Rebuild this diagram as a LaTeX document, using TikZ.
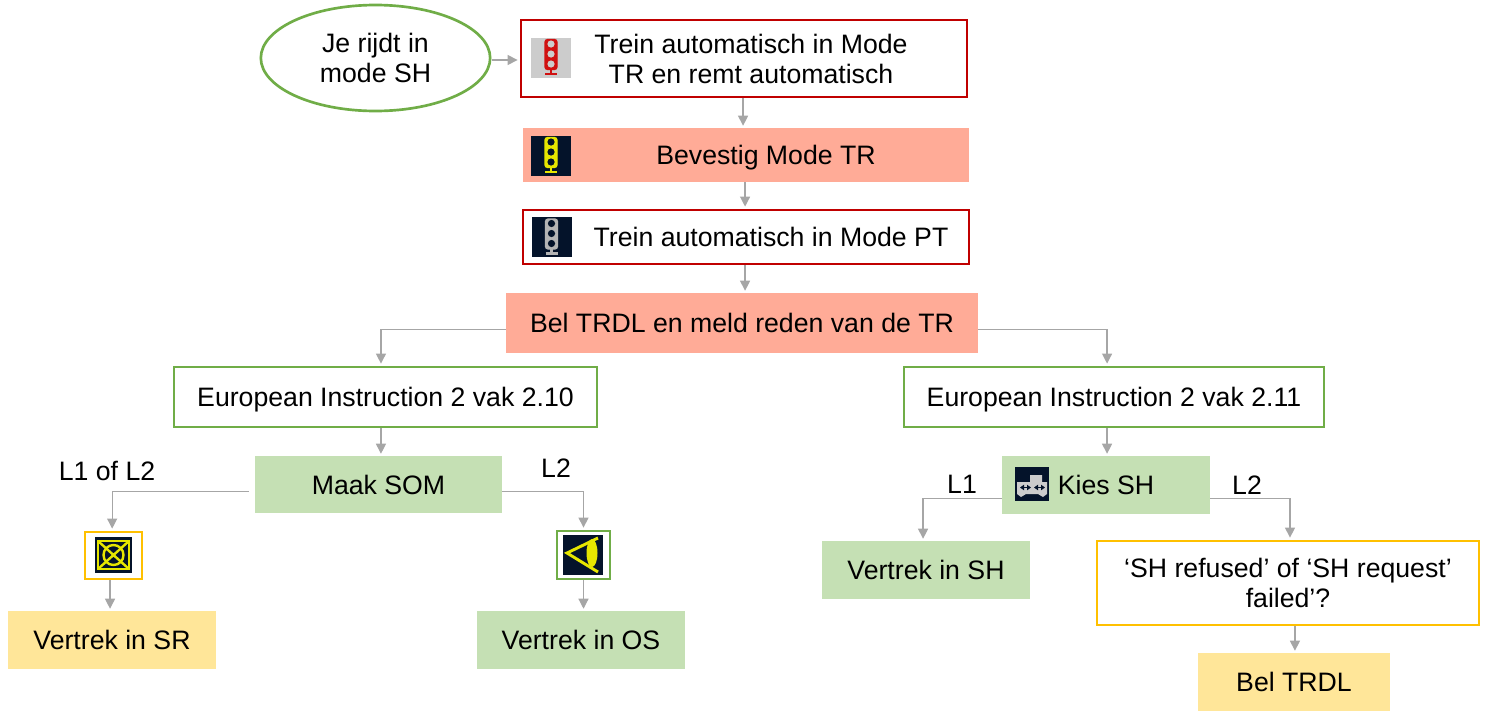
\documentclass[tikz,border=0pt]{standalone}
\usepackage{fontspec}
\setmainfont{Liberation Sans}
\usetikzlibrary{shapes.geometric,arrows.meta}
\definecolor{cred}{HTML}{C00000}
\definecolor{cgreen}{HTML}{70AD47}
\definecolor{cgold}{HTML}{FFC000}
\definecolor{csalmon}{HTML}{FFAB97}
\definecolor{clgreen}{HTML}{C5E0B4}
\definecolor{cyel}{HTML}{FFE699}
\definecolor{cgray}{HTML}{A6A6A6}
\definecolor{icondark}{HTML}{04132A}
\definecolor{iconyel}{HTML}{E6E600}
\definecolor{iconlg}{HTML}{CCCCCC}
\definecolor{iconmg}{HTML}{B4B4B4}
\definecolor{iconred}{HTML}{D01010}
\tikzset{
  x=0.75pt,y=-0.75pt,
  txt/.style={font=\fontsize{20}{22.5}\selectfont,align=center,text=black,inner sep=0pt},
  oneline/.style={text height=14.3pt,text depth=0pt},
  boxbase/.style n args={2}{txt,rectangle,minimum width=#1*0.75pt,minimum height=#2*0.75pt},
  redbox/.style={draw=cred,line width=2.1pt,fill=white},
  greenbox/.style={draw=cgreen,line width=2.1pt,fill=white},
  goldbox/.style={draw=cgold,line width=2.1pt,fill=white},
  salmonbox/.style={fill=csalmon},
  lgbox/.style={fill=clgreen},
  yelbox/.style={fill=cyel},
  conn/.style={draw=cgray,line width=0.9pt,-{Triangle[length=7.5pt,width=7.5pt]},shorten >=1.5pt},
  edgelabel/.style={font=\fontsize{20}{22}\selectfont,text=black,inner sep=0pt},
  pics/tlight/.style 2 args={code={
    \fill[#1] (-20,-20) rectangle (20,20);
    \filldraw[draw=#2,fill=#2,line width=1pt,rounded corners=2pt] (-6,-18) rectangle (6,12);
    \draw[#2,line width=2pt] (0,12) -- (0,15);
    \draw[#2,line width=2.2pt] (-6,16.5) -- (6,16.5);
    \foreach \cy in {-13.5,-3.5,6.5} \fill[#1] (0,\cy) circle (3.6);
  }},
}
\begin{document}
\begin{tikzpicture}
\useasboundingbox (0,0) rectangle (1485,711);
\node[ellipse,draw=cgreen,line width=2pt,fill=white,txt,minimum width=172pt,minimum height=79.5pt] (start) at (375.5,58) {Je rijdt in\\mode SH};
\node[boxbase={446}{77},redbox] (a) at (744,58.5) {\hspace{10.5pt}Trein automatisch in Mode\\\hspace{10.5pt}TR en remt automatisch};
\node[boxbase={446}{54},salmonbox,oneline] (b) at (746,155) {\hspace{30pt}Bevestig Mode TR};
\node[boxbase={446}{54},redbox,oneline] (c) at (746,237) {\hspace{37.5pt}Trein automatisch in Mode PT};
\node[boxbase={472}{60},salmonbox,oneline] (d) at (742,323) {Bel TRDL en meld reden van de TR};
\node[boxbase={423}{60},greenbox,oneline] (e) at (385.5,397) {European Instruction 2 vak 2.10};
\node[boxbase={420}{60},greenbox,oneline] (f) at (1114,397) {European Instruction 2 vak 2.11};
\node[boxbase={247}{57},lgbox,oneline] (g) at (378.5,484.5) {Maak SOM};
\node[boxbase={208}{58},lgbox,oneline] (h) at (1106,485) {Kies SH};
\node[boxbase={57}{47},goldbox] (i) at (113.5,555.5) {};
\node[boxbase={53}{48},greenbox] (j) at (583.5,555) {};
\node[boxbase={208}{58},yelbox,oneline] (k) at (112,640) {Vertrek in SR};
\node[boxbase={208}{58},lgbox,oneline] (l) at (581,640) {Vertrek in OS};
\node[boxbase={208}{58},lgbox,oneline] (m) at (926,570) {Vertrek in SH};
\node[boxbase={382}{84},goldbox] (n) at (1288,583) {‘SH refused’ of ‘SH request’\\failed’?};
\node[boxbase={192}{58},yelbox,oneline] (o) at (1294,682) {Bel TRDL};

% icons
\pic at (551,57.5) {tlight={iconlg}{iconred}};
\pic at (551,155.5) {tlight={icondark}{iconyel}};
\pic at (551.5,237) {tlight={icondark}{iconmg}};

% SR icon
\fill[icondark] (94.5,537) rectangle (132,573);
\begin{scope}[iconyel,line width=1.8pt]
\draw (98,541) rectangle (129,569);
\draw (98,541) -- (129,569) (98,569) -- (129,541);
\draw (113.5,555) circle (10);
\end{scope}
% OS icon
\fill[icondark] (563,535) rectangle (603,575);
\begin{scope}[iconyel,line width=2.2pt]
\draw (598,538) -- (567,553) -- (598,572);
\fill (592,553) ellipse [x radius=5.5,y radius=14];
\end{scope}
% SH icon
\fill[icondark] (1015,467) rectangle (1049,501);
\begin{scope}[iconlg]
\fill (1017,482) -- (1030,482) -- (1030,475) -- (1042,475) -- (1042,482) -- (1047,482) -- (1047,494) -- (1043,497) -- (1038,494) -- (1026,494) -- (1021,497) -- (1017,494) -- cycle;
\draw[icondark,line width=0.9pt,{Triangle[length=3pt,width=4pt]}-{Triangle[length=3pt,width=4pt]}] (1020,487.5) -- (1031,487.5);
\draw[icondark,line width=0.9pt,{Triangle[length=3pt,width=4pt]}-{Triangle[length=3pt,width=4pt]}] (1034,487.5) -- (1045,487.5);
\end{scope}

% connectors
\draw[conn] ([yshift=-1.5pt]start.east) -- ([yshift=-1.5pt]start.east -| a.west);
\draw[conn] ([xshift=-0.7pt]a.south) -- ([xshift=-0.7pt]a.south |- b.north);
\draw[conn] ([xshift=-0.7pt]b.south) -- ([xshift=-0.7pt]b.south |- c.north);
\draw[conn] ([xshift=-0.7pt]c.south) -- ([xshift=-0.7pt]c.south |- d.north);
\draw[conn] ([yshift=-5pt]d.west) -| ([xshift=-3.4pt]e.north);
\draw[conn] ([yshift=-5pt]d.east) -| ([xshift=-5.2pt]f.north);
\draw[conn] ([xshift=-3.4pt]e.south) -- ([xshift=-3.4pt]e.south |- g.north);
\draw[conn] ([xshift=-5.2pt]f.south) -- ([xshift=-5.2pt]f.south |- h.north);
\draw[conn] ([xshift=-4.5pt,yshift=-5pt]g.west) -| ([xshift=-1pt]i.north);
\draw[conn] ([yshift=-5pt]g.east) -| (j.north);
\draw[conn] ([xshift=-2.6pt]i.south) -- ([xshift=-2.6pt]i.south |- k.north);
\draw[conn] (j.south) -- (j.south |- l.north);
\draw[conn] ([yshift=-10pt]h.west) -| ([xshift=-2.2pt]m.north);
\draw[conn] ([yshift=-10pt]h.east) -| ([xshift=1.5pt]n.north);
\draw[conn] ([xshift=5.2pt]n.south) -- ([xshift=5.2pt]n.south |- o.north);

% edge labels
\node[edgelabel] (la) at (107,471) {L1 of L2};
\node[edgelabel] (lb) at (556,468) {L2};
\node[edgelabel] (lc) at (962,484) {L1};
\node[edgelabel] (ld) at (1247,485) {L2};
\end{tikzpicture}
\end{document}
